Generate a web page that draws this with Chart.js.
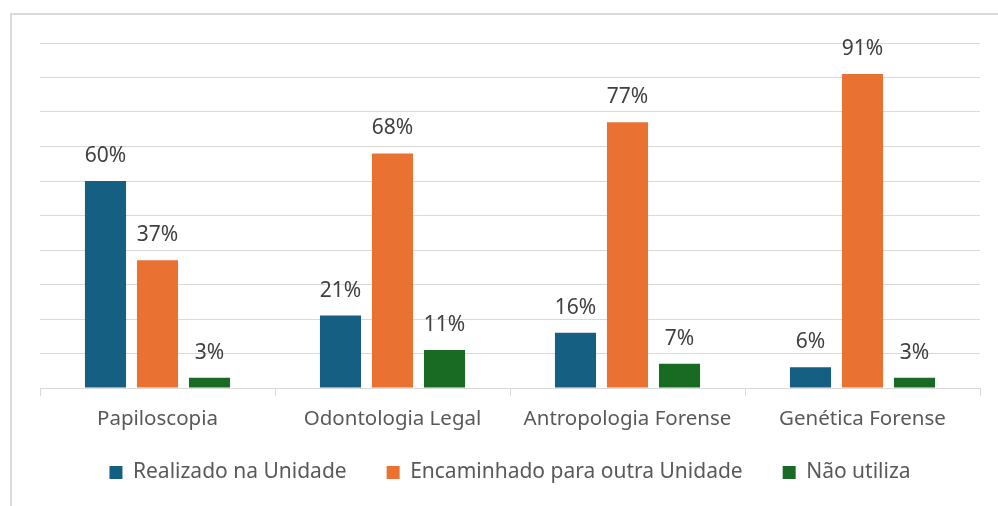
<!DOCTYPE html>
<html>
<head>
<meta charset="utf-8">
<script src="https://cdn.jsdelivr.net/npm/chart.js@4"></script>
<style>
  html, body { margin: 0; padding: 0; background: #ffffff; }
  #frame {
    position: absolute; left: 10px; top: 13px; width: 1000px; height: 500px;
    border-left: 2px solid #d9d9d9; border-top: 2px solid #d9d9d9;
  }
  #wrap { position: absolute; left: 0; top: 0; width: 998px; height: 506px; }
</style>
</head>
<body>
<div id="frame"></div>
<div id="wrap"><canvas id="chart"></canvas></div>
<script>
// Categories and series (percent)
const categories = ['Papiloscopia', 'Odontologia Legal', 'Antropologia Forense', 'Genética Forense'];
const realizado = [60, 21, 16, 6];
const encaminhado = [37, 68, 77, 91];
const naoUtiliza = [3, 11, 7, 3];
const seriesNames = ['Realizado na Unidade', 'Encaminhado para outra Unidade', 'Não utiliza'];
const seriesColors = ['#156082', '#e97132', '#196b24'];

const FONT = '"Noto Sans", sans-serif';

// Percent labels above each bar
const barLabels = {
    id: 'barLabels',
    afterDatasetsDraw(chart) {
        const ctx = chart.ctx;
        ctx.save();
        ctx.font = '21px ' + FONT;
        ctx.fillStyle = '#404040';
        ctx.textAlign = 'center';
        ctx.textBaseline = 'alphabetic';
        chart.data.datasets.forEach((ds, i) => {
            chart.getDatasetMeta(i).data.forEach((bar, j) => {
                ctx.fillText(ds.data[j] + '%', bar.x, bar.y - 19);
            });
        });
        ctx.restore();
    }
};

new Chart(document.getElementById('chart'), {
    type: 'bar',
    data: {
        labels: categories,
        datasets: [realizado, encaminhado, naoUtiliza].map((d, i) => ({
            label: seriesNames[i],
            data: d,
            backgroundColor: seriesColors[i],
            borderWidth: 0,
            categoryPercentage: 0.664,
            barPercentage: 0.79
        }))
    },
    options: {
        responsive: true,
        maintainAspectRatio: false,
        animation: false,
        layout: { padding: { top: 43, left: 40, right: 18, bottom: 13 } },
        plugins: {
            legend: {
                position: 'bottom',
                labels: {
                    color: '#595959',
                    font: { family: FONT, size: 21 },
                    boxWidth: 13,
                    boxHeight: 13,
                    padding: 40
                }
            },
            tooltip: { enabled: false }
        },
        scales: {
            x: {
                grid: { drawOnChartArea: false, drawTicks: true, tickLength: 8, color: '#d9d9d9', offset: true },
                border: { color: '#d9d9d9', width: 1 },
                // mirror keeps the labels unclipped; negative padding puts them below the axis
                ticks: { color: '#595959', font: { family: FONT, size: 20.5 }, mirror: true, padding: -43 },
                afterFit(scale) { scale.height = 34; }
            },
            y: {
                min: 0,
                max: 100,
                ticks: { display: false, stepSize: 10 },
                grid: { color: '#d9d9d9', drawTicks: false },
                border: { display: false },
                afterFit(scale) { scale.width = 0; }
            }
        }
    },
    plugins: [barLabels]
});
</script>
</body>
</html>
